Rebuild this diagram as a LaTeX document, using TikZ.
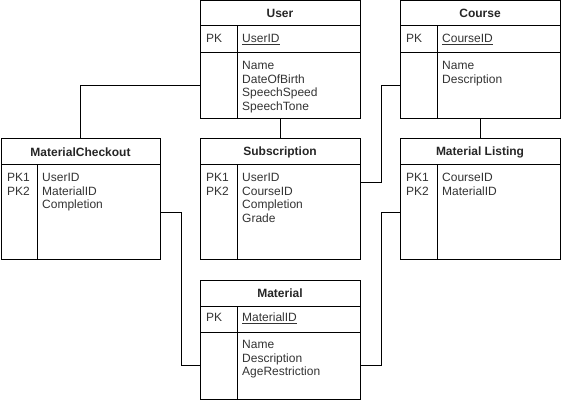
\documentclass[tikz,border=0pt]{standalone}
\usepackage{fontspec}
\setmainfont{Liberation Sans}
\newcommand{\keyline}[1]{\underline{#1}}
\begin{document}
\begin{tikzpicture}[x=1pt,y=-1pt,
  sec/.style={draw,line width=1pt,anchor=north west,minimum width=160pt,inner sep=0pt,outer sep=0pt},
  ttl/.style={font=\bfseries\fontsize{12}{14}\selectfont,inner sep=0pt,text=black!85},
  fld/.style={font=\fontsize{12}{13.6}\selectfont,align=left,anchor=north west,inner sep=0pt,text=black!80},
  link/.style={draw,line width=1pt}]
\useasboundingbox (0,0) rectangle (561,403);

% ---- User
\node[sec,minimum height=25pt] (userT) at (200,1) {};
\node[sec,minimum height=27pt] (userP) at (userT.south west) {};
\node[sec,minimum height=66pt] (userB) at (userP.south west) {};
\node[ttl] (userTt) at (userT.center) {User};
\node[fld] (userPk) at ([xshift=6pt,yshift=-8pt]userP.north west) {PK};
\node[fld] (userPf) at ([xshift=42pt,yshift=-8pt]userP.north west) {\keyline{UserID}};
\node[fld] (userBf) at ([xshift=42pt,yshift=-8pt]userB.north west) {Name\\DateOfBirth\\SpeechSpeed\\SpeechTone};
\draw[link] ([xshift=37pt]userP.north west) -- ([xshift=37pt]userB.south west);

% ---- Course
\node[sec,minimum height=25pt] (courseT) at (400,1) {};
\node[sec,minimum height=27pt] (courseP) at (courseT.south west) {};
\node[sec,minimum height=66pt] (courseB) at (courseP.south west) {};
\node[ttl] (courseTt) at (courseT.center) {Course};
\node[fld] (coursePk) at ([xshift=6pt,yshift=-8pt]courseP.north west) {PK};
\node[fld] (coursePf) at ([xshift=42pt,yshift=-8pt]courseP.north west) {\keyline{CourseID}};
\node[fld] (courseBf) at ([xshift=42pt,yshift=-8pt]courseB.north west) {Name\\Description};
\draw[link] ([xshift=37pt]courseP.north west) -- ([xshift=37pt]courseB.south west);

% ---- MaterialCheckout
\node[sec,minimum width=159pt,minimum height=26pt] (mcT) at (1,139) {};
\node[sec,minimum width=159pt,minimum height=94pt] (mcB) at (mcT.south west) {};
\node[ttl] (mcTt) at (mcT.center) {MaterialCheckout};
\node[fld] (mcBk) at ([xshift=6pt,yshift=-8pt]mcB.north west) {PK1\\PK2};
\node[fld] (mcBf) at ([xshift=41pt,yshift=-8pt]mcB.north west) {UserID\\MaterialID\\Completion};
\draw[link] ([xshift=36pt]mcB.north west) -- ([xshift=36pt]mcB.south west);

% ---- Subscription
\node[sec,minimum height=26pt] (subT) at (200,139) {};
\node[sec,minimum height=94pt] (subB) at (subT.south west) {};
\node[ttl] (subTt) at (subT.center) {Subscription};
\node[fld] (subBk) at ([xshift=6pt,yshift=-8pt]subB.north west) {PK1\\PK2};
\node[fld] (subBf) at ([xshift=42pt,yshift=-8pt]subB.north west) {UserID\\CourseID\\Completion\\Grade};
\draw[link] ([xshift=37pt]subB.north west) -- ([xshift=37pt]subB.south west);

% ---- Material Listing
\node[sec,minimum height=26pt] (mlT) at (400,139) {};
\node[sec,minimum height=94pt] (mlB) at (mlT.south west) {};
\node[ttl] (mlTt) at (mlT.center) {Material Listing};
\node[fld] (mlBk) at ([xshift=6pt,yshift=-8pt]mlB.north west) {PK1\\PK2};
\node[fld] (mlBf) at ([xshift=42pt,yshift=-8pt]mlB.north west) {CourseID\\MaterialID};
\draw[link] ([xshift=37pt]mlB.north west) -- ([xshift=37pt]mlB.south west);

% ---- Material
\node[sec,minimum height=26pt] (matT) at (200,280) {};
\node[sec,minimum height=26pt] (matP) at (matT.south west) {};
\node[sec,minimum height=67pt] (matB) at (matP.south west) {};
\node[ttl] (matTt) at (matT.center) {Material};
\node[fld] (matPk) at ([xshift=6pt,yshift=-7pt]matP.north west) {PK};
\node[fld] (matPf) at ([xshift=42pt,yshift=-7pt]matP.north west) {\keyline{MaterialID}};
\node[fld] (matBf) at ([xshift=42pt,yshift=-8pt]matB.north west) {Name\\Description\\AgeRestriction};
\draw[link] ([xshift=37pt]matP.north west) -- ([xshift=37pt]matB.south west);

% ---- connectors
\coordinate (subIn) at ([yshift=29pt]subB.east);
\draw[link] (userB.west) -| (mcT.north);
\draw[link] (userB.south) -- (subT.north);
\draw[link] (courseB.west) -- ++(-19,0) |- (subIn);
\draw[link] (courseB.south) -- (mlT.north);
\draw[link] (mcB.east) -- ++(21,0) |- (matB.west);
\draw[link] (mlB.west) -- ++(-19,0) |- (matB.east);
\end{tikzpicture}
\end{document}
